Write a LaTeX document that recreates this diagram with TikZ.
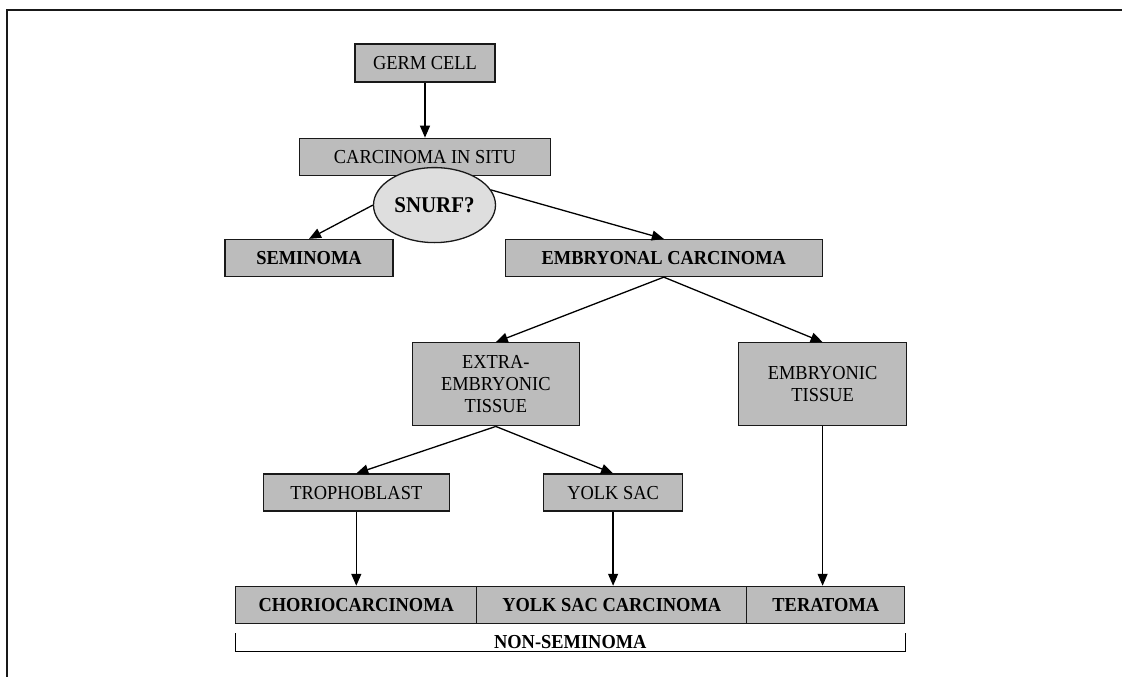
\documentclass[tikz,border=0pt]{standalone}
\usepackage{fontspec}
\setmainfont{Liberation Serif}[FakeStretch=0.93]
\usetikzlibrary{arrows.meta,positioning,shapes.geometric}
\definecolor{boxgray}{RGB}{188,188,188}
\definecolor{snurfgray}{RGB}{222,222,222}
\tikzstyle{stage}=[
	rectangle,
	draw=black!90,
	line width=1.3pt,
	fill=boxgray,
	inner sep=0pt,
	minimum height=37pt,
	align=center,
	font=\fontsize{19.8}{22}\selectfont
]
\tikzstyle{tumour}=[
	stage,
	font=\fontsize{19.8}{22}\selectfont\bfseries
]
\tikzstyle{query}=[
	ellipse,
	draw=black!90,
	line width=1.3pt,
	fill=snurfgray,
	inner sep=0pt,
	minimum width=122pt,
	minimum height=75pt,
	font=\fontsize{22.5}{25}\selectfont\bfseries
]
\tikzstyle{develops}=[
	->,
	>={Triangle[length=12pt,width=10pt]},
	line width=1.3pt
]

\begin{document}
\begin{tikzpicture}[x=1pt,y=-1pt]
\useasboundingbox (0,0) rectangle (1122,677);
\draw [line width=1.9pt, black!90] (7,677) -- (7,10) -- (1122,10);
\node [stage, minimum width=140pt, minimum height=38pt] (GermCell) at (425,63) {GERM CELL};
\node [stage, minimum width=251pt] (CarcinomaInSitu) [below=55pt of GermCell] {CARCINOMA IN SITU}
	edge [develops, <-] (GermCell);
\node [query] (Snurf) [below=-9pt of CarcinomaInSitu, xshift=9.5pt] {SNURF?};
\node [tumour, minimum width=168pt] (Seminoma) at (309,258) {SEMINOMA};
\node [tumour, minimum width=317pt] (EmbryonalCarcinoma) [right=111pt of Seminoma] {EMBRYONAL CARCINOMA};
\node [stage, minimum width=167pt, minimum height=83pt] (ExtraEmbryonic) [below=65pt of EmbryonalCarcinoma, xshift=-168pt] {EXTRA-\\EMBRYONIC\\TISSUE};
\node [stage, minimum width=168pt, minimum height=83pt] (EmbryonicTissue) [right=158pt of ExtraEmbryonic] {EMBRYONIC\\TISSUE};
\node [stage, minimum width=186pt] (Trophoblast) [below=47pt of ExtraEmbryonic, xshift=-139.5pt] {TROPHOBLAST};
\node [stage, minimum width=139pt] (YolkSac) [right=93pt of Trophoblast] {YOLK SAC};
\node [tumour, minimum width=241pt] (Choriocarcinoma) [below=74pt of Trophoblast] {CHORIOCARCINOMA};
\node [tumour, minimum width=270pt] (YolkSacCarcinoma) [right=-1.3pt of Choriocarcinoma] {YOLK SAC CARCINOMA};
\node [tumour, minimum width=158pt] (Teratoma) [right=-1.3pt of YolkSacCarcinoma] {TERATOMA};

\draw [develops] (Snurf.west) -- (Seminoma.north);
\draw [develops] (Snurf.15) -- (EmbryonalCarcinoma.north);
\draw [develops] (EmbryonalCarcinoma.south) -- (ExtraEmbryonic.north);
\draw [develops] (EmbryonalCarcinoma.south) -- (EmbryonicTissue.north);
\draw [develops] (ExtraEmbryonic.south) -- (Trophoblast.north);
\draw [develops] (ExtraEmbryonic.south) -- (YolkSac.north);
\draw [develops] (Trophoblast) -- (Choriocarcinoma);
\draw [develops] (YolkSac) -- (YolkSac |- YolkSacCarcinoma.north);
\draw [develops] (EmbryonicTissue) -- (EmbryonicTissue |- Teratoma.north);
\draw [line width=1pt] ([yshift=-9pt]Choriocarcinoma.south west) |- ([yshift=-27pt]Teratoma.south east)
	node [pos=0.75, above, inner sep=1.5pt, font=\fontsize{19.8}{22}\selectfont\bfseries] (NonSeminoma) {NON-SEMINOMA}
	-- ([yshift=-9pt]Teratoma.south east);
\end{tikzpicture}
\end{document}
